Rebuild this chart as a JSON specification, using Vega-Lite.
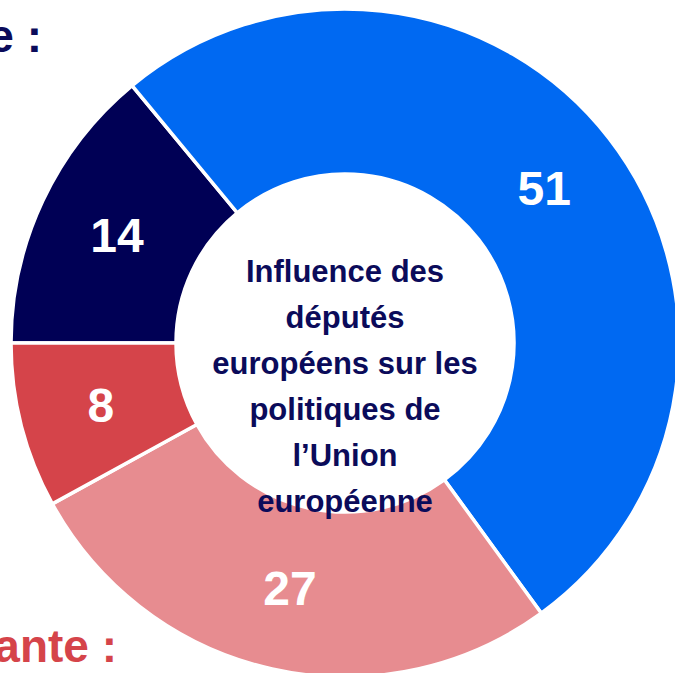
{
  "$schema": "https://vega.github.io/schema/vega-lite/v6.json",
  "width": 660,
  "height": 660,
  "padding": {"left": 15, "top": 13, "right": 0, "bottom": 0},
  "autosize": {"type": "none"},
  "background": "white",
  "view": {"stroke": null},
  "datasets": {
    "shares": [
      {"cat": "Très importante", "value": 14, "order": 1},
      {"cat": "Plutôt importante", "value": 51, "order": 2},
      {"cat": "Peu importante", "value": 27, "order": 3},
      {"cat": "Pas du tout importante", "value": 8, "order": 4}
    ]
  },
  "layer": [
    {
      "data": {"name": "shares"},
      "mark": {"type": "arc", "radius": 334, "radius2": 169, "stroke": "white", "strokeWidth": 3.5},
      "encoding": {
        "theta": {"field": "value", "type": "quantitative", "stack": true, "scale": {"range": [-1.5708, 4.7124]}},
        "order": {"field": "order", "type": "quantitative"},
        "color": {
          "field": "cat", "type": "nominal",
          "scale": {
            "domain": ["Très importante", "Plutôt importante", "Peu importante", "Pas du tout importante"],
            "range": ["#000055", "#0069F2", "#E78C90", "#D5444A"]
          },
          "legend": null
        }
      }
    },
    {
      "data": {"name": "shares"},
      "mark": {"type": "text", "radius": 252, "font": "Liberation Sans", "fontWeight": "bold", "fontSize": 48, "baseline": "middle", "align": "center", "dy": 2, "color": "white"},
      "encoding": {
        "theta": {"field": "value", "type": "quantitative", "stack": true},
        "order": {"field": "order", "type": "quantitative"},
        "text": {"field": "value", "type": "quantitative"}
      }
    },
    {
      "data": {"values": [{"id": "center"}]},
      "mark": {
        "type": "text",
        "text": ["Influence des", "députés", "européens sur les", "politiques de", "l’Union", "européenne"],
        "font": "Liberation Sans", "fontWeight": "bold", "fontSize": 31, "lineHeight": 46,
        "align": "center", "baseline": "alphabetic", "dy": -61, "color": "#0B0B5A"
      },
      "encoding": {}
    },
    {
      "data": {"values": [{"id": "top"}]},
      "mark": {
        "type": "text", "text": "Importante :",
        "font": "Liberation Sans", "fontWeight": "bold", "fontSize": 46,
        "align": "right", "baseline": "alphabetic", "dx": -303, "dy": -291, "color": "#0B0B5A"
      },
      "encoding": {}
    },
    {
      "data": {"values": [{"id": "bottom"}]},
      "mark": {
        "type": "text", "text": "Pas importante :",
        "font": "Liberation Sans", "fontWeight": "bold", "fontSize": 46,
        "align": "right", "baseline": "alphabetic", "dx": -228, "dy": 319, "color": "#D5444A"
      },
      "encoding": {}
    }
  ]
}
